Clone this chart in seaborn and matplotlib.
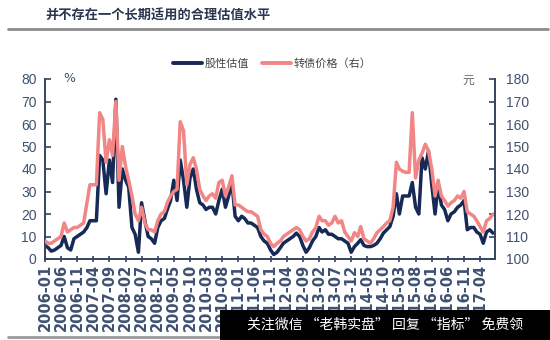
import numpy as np
import pandas as pd
import matplotlib
matplotlib.use('Agg')
import matplotlib.pyplot as plt
import seaborn as sns
from matplotlib.patches import Rectangle
from matplotlib.lines import Line2D

# ---------------- data ----------------
title = '并不存在一个长期适用的合理估值水平'
series_names = ['股性估值', '转债价格（右）']
start_month = '2006-01-01'
left_unit = '%'
right_unit = '元'
watermark = '关注微信 “老韩实盘” 回复 “指标” 免费领'

# 股性估值 (%), monthly, 2006-01 .. 2017-08
stock_valuation = [
    6, 5, 3.5, 4, 5, 6, 10, 5, 4, 9, 10, 11,            # 2006
    12, 14, 17, 17, 17, 46, 44, 29, 44, 34, 71, 23,     # 2007
    40, 35, 32, 14, 11, 3, 25, 17, 10, 9, 7, 14,        # 2008
    17, 18, 22, 26, 35, 26, 44, 35, 23, 36, 40, 31,     # 2009
    25, 24, 22, 23, 23, 20, 26, 31, 23, 28, 34, 19,     # 2010
    17, 19, 18, 16, 16, 15, 14, 10, 8, 7, 4, 2,         # 2011
    3, 5, 7, 8, 9, 10, 11.5, 10, 6, 3, 5, 8,            # 2012
    10, 14, 12, 13, 11, 11, 10, 9, 9, 8, 7, 3,          # 2013
    5.5, 7, 8.6, 6, 5.5, 5.5, 6, 7, 9, 11.5, 13, 14.4,  # 2014
    19, 29, 20, 28, 28, 28, 34, 23, 20, 45, 40, 48,     # 2015
    33, 20, 33, 24, 22, 17, 20, 21, 23, 24, 26, 13,     # 2016
    14, 14, 12, 11, 7, 12, 13, 11.5,                    # 2017
]

# 转债价格 (元), right axis, monthly, 2006-01 .. 2017-08
cb_price = [
    108, 107, 107, 108, 109, 110, 116, 112, 113, 114, 114, 115,
    116, 125, 133, 133, 133, 165, 162, 143, 153, 146, 170, 135,
    150, 141, 135, 128, 120, 117, 123, 116, 113, 113, 112, 117,
    120, 121, 125, 128, 130, 131, 161, 157, 133, 142, 145, 140,
    131, 128, 126, 128, 129, 127, 134, 135, 128, 132, 137, 124,
    124, 123, 122, 121, 121, 120, 119, 113, 111, 110, 107, 105.5,
    107, 108, 110, 111, 112, 113, 114, 113, 110, 108, 109, 112,
    114, 119, 117, 117, 115, 116, 119, 116, 117, 112, 110, 108,
    111.7, 110, 114.4, 109, 108, 107, 109, 111.7, 113, 114.4, 116, 117,
    123, 143, 140, 139, 138.5, 138.5, 165, 136, 144, 147, 151, 148,
    140, 128, 135, 128, 126, 123.5, 125, 126, 128, 127, 130, 121,
    120, 119, 117, 114.4, 112, 117, 118, 120,
]

tick_labels = ['2006-01', '2006-06', '2006-11', '2007-04', '2007-09', '2008-02',
               '2008-07', '2008-12', '2009-05', '2009-10', '2010-03', '2010-08',
               '2011-01', '2011-06', '2011-11', '2012-04', '2012-09', '2013-02',
               '2013-07', '2013-12', '2014-05', '2014-10', '2015-03', '2015-08',
               '2016-01', '2016-06', '2016-11', '2017-04']
left_ticks = [0, 10, 20, 30, 40, 50, 60, 70, 80]
right_ticks = [100, 110, 120, 130, 140, 150, 160, 170, 180]

# ---------------- style ----------------
sns.set_theme(style='white')
plt.rcParams['font.family'] = ['Liberation Sans Narrow', 'Liberation Sans',
                               'Noto Sans CJK SC', 'DejaVu Sans']
CJK = ['Noto Sans CJK SC', 'DejaVu Sans']
NAVY = '#172a56'
PINK = '#f28585'
AXC = '#34435f'
LBL = '#3f5170'

W, H = 550, 340
fig = plt.figure(figsize=(W / 100, H / 100), dpi=100)
fig.patch.set_facecolor('white')
L, R, B, T = 45, 495, 259, 79
ax = fig.add_axes([L / W, 1 - B / H, (R - L) / W, (B - T) / H])
ax2 = ax.twinx()

dates = pd.date_range(start_month, periods=len(stock_valuation), freq='MS')
df = pd.DataFrame({'date': dates, 'stock': stock_valuation, 'cb': cb_price})

sns.lineplot(data=df, x='date', y='stock', ax=ax, color=NAVY, linewidth=2.5)
sns.lineplot(data=df, x='date', y='cb', ax=ax2, color=PINK, linewidth=2.5)

ax.set_xlim(pd.Timestamp('2006-01-01'), pd.Timestamp('2017-08-20'))
ax.set_ylim(0, 80)
ax2.set_ylim(100, 180)
ax.set_xlabel('')
ax.set_ylabel('')
ax2.set_ylabel('')
ax.set_facecolor('none')

ax.set_yticks(left_ticks)
ax2.set_yticks(right_ticks)
xt = pd.to_datetime(tick_labels)
ax.set_xticks(xt)
ax.set_xticklabels(tick_labels, rotation=90, fontsize=10.5, fontweight='bold',
                   family='DejaVu Sans', color=LBL)

for a in (ax, ax2):
    for s in a.spines.values():
        s.set_visible(False)
ax.spines['left'].set_visible(True)
ax.spines['bottom'].set_visible(True)
ax2.spines['right'].set_visible(True)
for s in (ax.spines['left'], ax.spines['bottom'], ax2.spines['right']):
    s.set_color(AXC)
    s.set_linewidth(1.4)

ax.tick_params(axis='y', left=True, direction='in', length=4, width=1.2,
               color=AXC, labelsize=10, labelcolor=LBL, pad=6)
ax.tick_params(axis='x', bottom=True, direction='inout', length=5, width=1.2,
               color=AXC, pad=1)
ax2.tick_params(axis='y', right=True, direction='in', length=4, width=1.2,
                color=AXC, labelsize=10, labelcolor=LBL, pad=8)
ax.grid(False)
ax2.grid(False)

# ---------------- texts ----------------
fig.text(45 / W, 1 - 15.5 / H, title, fontsize=9.5, fontweight='bold',
         color='#2a3550', family=CJK, ha='left', va='center')
fig.add_artist(Line2D([8 / W, 548 / W], [1 - 29 / H, 1 - 29 / H],
                      color='#8c8c8c', linewidth=2))
fig.text(63 / W, 1 - 78 / H, left_unit, fontsize=9, color=LBL,
         family='DejaVu Sans', ha='left', va='center')
fig.text(474 / W, 1 - 80 / H, right_unit, fontsize=8.5, color='#666666',
         family=CJK, ha='right', va='center')

handles = [Line2D([], [], color=NAVY, linewidth=2.8),
           Line2D([], [], color=PINK, linewidth=2.8)]
fig.legend(handles, series_names, loc='center',
           bbox_to_anchor=(272 / W, 1 - 64 / H), ncol=2, frameon=False,
           handlelength=2.6, handletextpad=0.2, columnspacing=1.2,
           prop={'family': CJK, 'size': 8}, labelcolor='#444444')

# bottom rule and watermark banner
fig.add_artist(Line2D([8 / W, 222 / W], [1 - 337 / H, 1 - 337 / H],
                      color='#9a9a9a', linewidth=2))
fig.patches.append(Rectangle((220 / W, 0), (W - 220) / W, 30 / H,
                             transform=fig.transFigure, facecolor='black',
                             edgecolor='none', zorder=10))
fig.text(385 / W, 15 / H, watermark, fontsize=10, color='white',
         family=CJK, ha='center', va='center', zorder=11)

fig.savefig('out.png', dpi=100)
